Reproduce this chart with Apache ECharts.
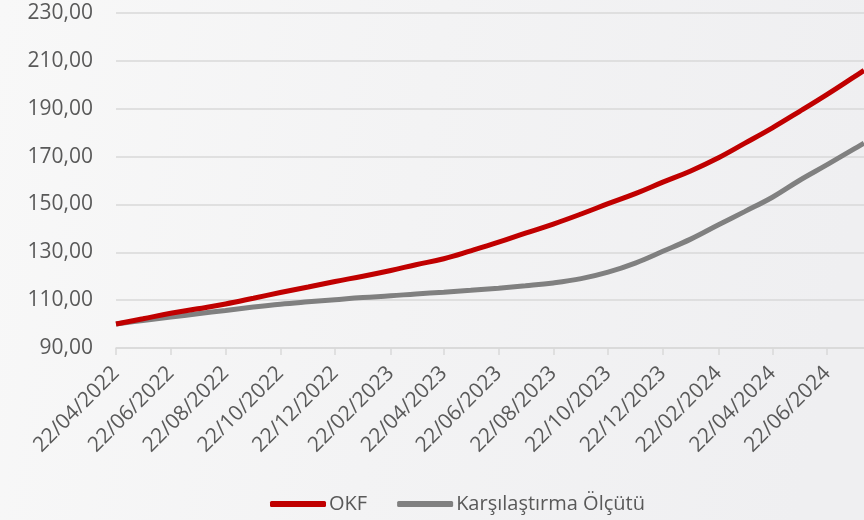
<!DOCTYPE html>
<html>
<head>
<meta charset="utf-8">
<script src="https://cdn.jsdelivr.net/npm/echarts@6/dist/echarts.min.js"></script>
<style>html,body{margin:0;padding:0;}#c{width:864px;height:520px;}</style>
</head>
<body>
<div id="c"></div>
<script>
var dates = ['2022-04-22','2022-05-22','2022-06-22','2022-07-22','2022-08-22','2022-09-22','2022-10-22','2022-11-22','2022-12-22',
  '2023-01-22','2023-02-22','2023-03-22','2023-04-22','2023-05-22','2023-06-22','2023-07-22','2023-08-22','2023-09-22','2023-10-22','2023-11-22','2023-12-22',
  '2024-01-22','2024-02-22','2024-03-22','2024-04-22','2024-05-22','2024-06-22','2024-07-22','2024-08-02'];
var okf = [100, 102.2, 104.5, 106.4, 108.4, 110.8, 113.2, 115.5, 117.8,
  120.0, 122.4, 124.8, 127.3, 130.6, 134.2, 138.0, 141.8, 146.0, 150.3, 154.6, 159.3,
  164.0, 169.5, 175.5, 182.0, 188.8, 196.0, 203.3, 206.0];
var benchmark = [100, 101.5, 102.9, 104.3, 105.7, 107.1, 108.3, 109.3, 110.2,
  111.1, 111.8, 112.6, 113.3, 114.1, 115.0, 116.0, 117.2, 119.0, 121.7, 125.6, 130.4,
  135.5, 141.5, 147.0, 153.0, 160.0, 166.6, 173.2, 175.6];
var tickDates = ['2022-04-22','2022-06-22','2022-08-22','2022-10-22','2022-12-22','2023-02-22','2023-04-22',
  '2023-06-22','2023-08-22','2023-10-22','2023-12-22','2024-02-22','2024-04-22','2024-06-22'];
var axisStart = '2022-04-22', axisEnd = '2024-08-02';
var seriesNames = ['OKF', 'Karşılaştırma Ölçütü'];

var DAY = 86400000;
function ts(s){ var p = s.split('-'); return Date.UTC(+p[0], +p[1]-1, +p[2]); }
var t0 = ts(axisStart);
function dayOf(s){ return Math.round((ts(s) - t0) / DAY); }
function pad(n){ return (n<10?'0':'')+n; }
function fmtDay(v){ var d = new Date(t0 + Math.round(v) * DAY); return pad(d.getUTCDate())+'/'+pad(d.getUTCMonth()+1)+'/'+d.getUTCFullYear(); }
var tickDays = tickDates.map(dayOf);

var font = '"Open Sans", sans-serif';
var chart = echarts.init(document.getElementById('c'));
chart.setOption({
  animation: false,
  backgroundColor: {
    type: 'linear', x: 0, y: 0, x2: 1, y2: 0.3,
    colorStops: [{offset: 0, color: '#f8f8f8'}, {offset: 0.5, color: '#f3f3f4'}, {offset: 1, color: '#efeff1'}]
  },
  grid: {left: 116, right: 0, top: 13, bottom: 172, containLabel: false},
  legend: {
    left: 270, top: 494, padding: 0,
    itemWidth: 56, itemHeight: 6, itemGap: 30,
    icon: 'roundRect',
    textStyle: {fontFamily: font, fontSize: 20, color: '#595959', padding: [0,0,0,-2]},
    data: seriesNames
  },
  xAxis: {
    type: 'value',
    min: 0, max: dayOf(axisEnd),
    axisLine: {lineStyle: {color: '#d9d9d9', width: 1.5}},
    axisTick: {show: true, length: 7, lineStyle: {color: '#d9d9d9', width: 1.5}, customValues: tickDays},
    axisLabel: {
      customValues: tickDays,
      rotate: 45, fontFamily: font, fontSize: 21, color: '#595959', margin: 22,
      formatter: function(v){ return fmtDay(v); }
    },
    splitLine: {show: false}
  },
  yAxis: {
    type: 'value', min: 90, max: 230, interval: 20,
    axisLine: {show: false}, axisTick: {show: false},
    axisLabel: {fontFamily: font, fontSize: 21, color: '#595959', margin: 23,
      formatter: function(v){ return v.toFixed(2).replace('.', ','); }},
    splitLine: {lineStyle: {color: '#d9d9d9', width: 1.5}}
  },
  series: [
    {name: seriesNames[0], type: 'line', smooth: 0.4, showSymbol: false, z: 3,
      data: dates.map(function(d,i){ return [dayOf(d), okf[i]]; }),
      lineStyle: {color: '#c00000', width: 5}, itemStyle: {color: '#c00000'}},
    {name: seriesNames[1], type: 'line', smooth: 0.4, showSymbol: false, z: 2,
      data: dates.map(function(d,i){ return [dayOf(d), benchmark[i]]; }),
      lineStyle: {color: '#808080', width: 5}, itemStyle: {color: '#808080'}}
  ]
});
</script>
</body>
</html>
